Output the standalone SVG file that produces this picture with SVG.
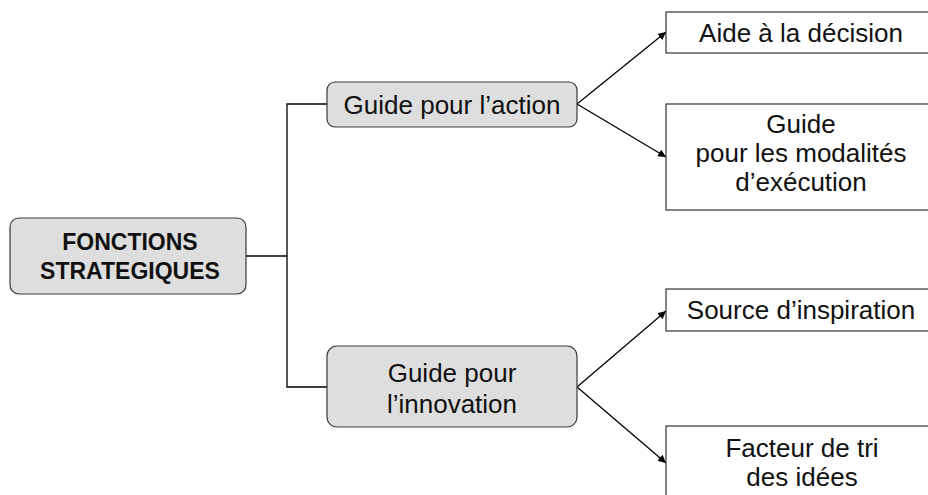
<svg xmlns="http://www.w3.org/2000/svg" width="928" height="495" viewBox="0 0 928 495">
<style>
.g{fill:#dedede;stroke:#3a3a3a;stroke-width:1.2}
.w{fill:#fff;stroke:#333;stroke-width:1.2}
.t{font-family:"Liberation Sans",Arial,sans-serif;font-size:26px;fill:#111;text-anchor:middle}
.b{font-family:"Liberation Sans",Arial,sans-serif;font-size:23px;font-weight:bold;fill:#111;text-anchor:middle}
.c{fill:none;stroke:#000;stroke-width:1.3}
</style>
<defs>
<marker id="ar" viewBox="0 0 10 10" refX="10" refY="5" markerWidth="8" markerHeight="8" markerUnits="userSpaceOnUse" orient="auto">
<path d="M0,0 L10,5 L0,10 z" fill="#000"/>
</marker>
</defs>
<g id="connectors">
<polyline class="c" points="246,256 287,256"/>
<polyline class="c" points="327,104 287,104 287,387 327,387"/>
<line class="c" x1="577" y1="104" x2="666" y2="32" marker-end="url(#ar)"/>
<line class="c" x1="577" y1="104" x2="666" y2="157" marker-end="url(#ar)"/>
<line class="c" x1="577" y1="387" x2="666" y2="311" marker-end="url(#ar)"/>
<line class="c" x1="577" y1="387" x2="666" y2="463" marker-end="url(#ar)"/>
</g>
<g id="main">
<rect class="g" x="10" y="218" width="236" height="76" rx="9"/>
<text class="b" x="130" y="250">FONCTIONS</text>
<text class="b" x="130" y="279">STRATEGIQUES</text>
</g>
<g id="action">
<rect class="g" x="327" y="82" width="250" height="45" rx="8"/>
<text class="t" x="452" y="114">Guide pour l’action</text>
</g>
<g id="innovation">
<rect class="g" x="327" y="346" width="250" height="81" rx="10"/>
<text class="t" x="452" y="382">Guide pour</text>
<text class="t" x="452" y="413">l’innovation</text>
</g>
<g id="aide">
<rect class="w" x="666" y="12" width="270" height="41"/>
<text class="t" x="801" y="42">Aide à la décision</text>
</g>
<g id="modalites">
<rect class="w" x="666" y="104" width="270" height="106"/>
<text class="t" x="801" y="133">Guide</text>
<text class="t" x="801" y="162">pour les modalités</text>
<text class="t" x="801" y="191">d’exécution</text>
</g>
<g id="source">
<rect class="w" x="666" y="289" width="270" height="42"/>
<text class="t" x="801" y="319">Source d’inspiration</text>
</g>
<g id="facteur">
<rect class="w" x="666" y="426" width="270" height="80"/>
<text class="t" x="802" y="457">Facteur de tri</text>
<text class="t" x="802" y="486">des idées</text>
</g>
</svg>
